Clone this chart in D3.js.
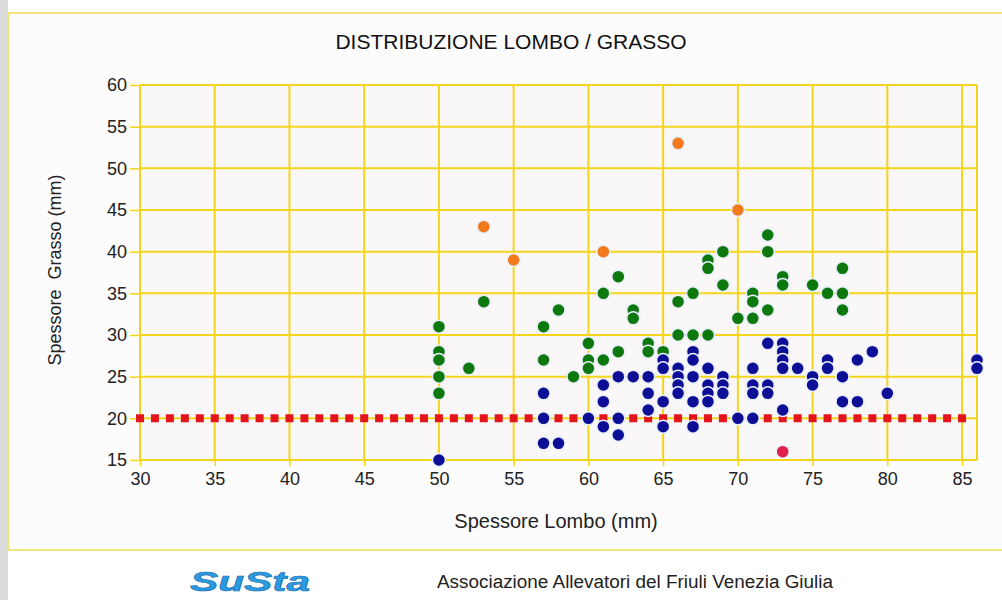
<!DOCTYPE html>
<meta charset="utf-8">
<title>Distribuzione Lombo / Grasso</title>

<script src="https://d3js.org/d3.v7.min.js"></script>
<style>
        body {
            margin: 0;
            background: #ffffff;
            font-family: "Liberation Sans", Arial, sans-serif;
        }
</style>

<div id="chart"></div>

<script>
    // data: [lombo mm, grasso mm]
    var greenPoints = [
      [50,31],[50,28],[50,27],[50,25],[50,23],[52,26],[53,34],
      [57,31],[57,27],[58,33],[59,25],[60,29],[60,27],[60,26],
      [61,35],[61,27],[62,37],[62,28],[63,33],[63,32],
      [64,29],[64,28],[65,28],[66,34],[66,30],[67,35],[67,30],[68,30],
      [68,39],[68,38],[69,40],[69,36],[70,32],[71,35],[71,34],[71,32],
      [72,42],[72,40],[72,33],[73,37],[73,36],
      [75,36],[76,35],[77,38],[77,35],[77,33]
    ];
    var bluePoints = [
      [50,15],[57,23],[57,20],[57,17],[58,17],[60,20],
      [61,24],[61,22],[61,19],[62,25],[62,20],[62,18],[63,25],
      [64,25],[64,23],[64,21],[65,27],[65,26],[65,22],[65,19],
      [66,26],[66,25],[66,24],[66,23],[67,28],[67,27],[67,25],[67,22],[67,19],
      [68,26],[68,24],[68,23],[68,22],[69,25],[69,24],[69,23],[70,20],
      [71,26],[71,24],[71,23],[71,20],[72,29],[72,24],[72,23],
      [73,29],[73,28],[73,27],[73,26],[73,21],[74,26],[75,25],[75,24],
      [76,27],[76,26],[77,25],[77,22],[78,27],[78,22],[79,28],[80,23],
      [86,27],[86,26]
    ];
    var orangePoints = [[53,43],[55,39],[61,40],[66,53],[70,45]];
    var redPoints = [[73,16]];

    var xTicks = [30,35,40,45,50,55,60,65,70,75,80,85];
    var yTicks = [15,20,25,30,35,40,45,50,55,60];
    var threshold = 20;

    var W = 1002, H = 600;

    var svg = d3.select("#chart")
      .append("svg")
        .attr("width", W)
        .attr("height", H);

    // outer frame
    svg.append("rect")
      .attr("x", 0).attr("y", 0).attr("width", 8).attr("height", H)
      .style("fill", "#dcdcdc")
    svg.append("rect")
      .attr("x", 8.5).attr("y", 13).attr("width", W).attr("height", 537)
      .style("fill", "#fdfcfd")
      .style("stroke", "#f1e57a")
      .style("stroke-width", 2)

    var x = d3.scaleLinear().domain([30, 86]).range([140, 977]);
    var y = d3.scaleLinear().domain([15, 60]).range([460, 85]);

    // plot background
    svg.append("rect")
      .attr("x", x(30)).attr("y", y(60))
      .attr("width", x(86) - x(30)).attr("height", y(15) - y(60))
      .style("fill", "#faf7f9")

    // gridlines
    svg.append("g")
      .selectAll("line")
      .data(xTicks.concat([86]))
      .enter()
      .append("line")
      .attr("x1", function(d) { return x(d); })
      .attr("x2", function(d) { return x(d); })
      .attr("y1", y(60))
      .attr("y2", y(15))
      .style("stroke", "#f4d51c")
      .style("stroke-width", 2)

    svg.append("g")
      .selectAll("line")
      .data(yTicks)
      .enter()
      .append("line")
      .attr("x1", x(30))
      .attr("x2", x(86))
      .attr("y1", function(d) { return y(d); })
      .attr("y2", function(d) { return y(d); })
      .style("stroke", "#f4d51c")
      .style("stroke-width", 2)

    // axes
    svg.append("g")
      .attr("transform", "translate(" + x(30) + ",0)")
      .call(d3.axisLeft(y).tickValues(yTicks).tickSize(10).tickPadding(3))
    svg.append("g")
      .attr("transform", "translate(0," + y(15) + ")")
      .call(d3.axisBottom(x).tickValues(xTicks).tickSize(6).tickPadding(6))

    svg.selectAll(".domain").remove()
    svg.selectAll(".tick line")
      .style("stroke", "#f4d51c")
      .style("stroke-width", 1.5)
    svg.selectAll(".tick text")
      .style("font-family", "Liberation Sans, Arial, sans-serif")
      .style("font-size", "18px")
      .style("fill", "#222")

    // threshold line at 20 mm
    var step = x(31) - x(30);
    svg.append("line")
      .attr("x1", x(30) - 4)
      .attr("x2", x(85) + 4)
      .attr("y1", y(threshold))
      .attr("y2", y(threshold))
      .style("stroke", "#e3141c")
      .style("stroke-width", 8)
      .style("stroke-dasharray", "8," + (step - 8))

    // points
    function drawPoints(data, color) {
      svg.append("g")
        .selectAll("circle")
        .data(data)
        .enter()
        .append("circle")
        .attr("cx", function(d) { return x(d[0]); })
        .attr("cy", function(d) { return y(d[1]); })
        .attr("r", 6.5)
        .style("fill", color)
        .style("stroke", "#e8eef8")
        .style("stroke-width", 1.5)
    }
    drawPoints(greenPoints, "#0c780e")
    drawPoints(bluePoints, "#0d0e96")
    drawPoints(orangePoints, "#f27a1c")
    drawPoints(redPoints, "#e0204a")

    // title
    svg.append("text")
      .attr("x", 511)
      .attr("y", 49)
      .style("text-anchor", "middle")
      .style("font-size", "21px")
      .style("fill", "#111")
      .text("DISTRIBUZIONE LOMBO / GRASSO")

    // axis titles
    svg.append("text")
      .attr("x", 556)
      .attr("y", 528)
      .style("text-anchor", "middle")
      .style("font-size", "20px")
      .style("fill", "#222")
      .text("Spessore Lombo (mm)")

    svg.append("text")
      .attr("transform", "translate(61,270) rotate(-90)")
      .style("text-anchor", "middle")
      .style("white-space", "pre")
      .style("font-size", "18px")
      .style("fill", "#222")
      .text("Spessore  Grasso (mm)")

    // footer
    svg.append("text")
      .attr("x", 190)
      .attr("y", 591)
      .attr("textLength", 120)
      .attr("lengthAdjust", "spacingAndGlyphs")
      .style("font-size", "27px")
      .style("font-weight", "bold")
      .style("font-style", "italic")
      .style("fill", "#2b9be0")
      .style("stroke", "#1a6fb0")
      .style("stroke-width", 0.6)
      .text("SuSta")

    svg.append("text")
      .attr("x", 437)
      .attr("y", 588)
      .attr("textLength", 396)
      .attr("lengthAdjust", "spacingAndGlyphs")
      .style("font-size", "18px")
      .style("fill", "#222")
      .text("Associazione Allevatori del Friuli Venezia Giulia")
</script>
